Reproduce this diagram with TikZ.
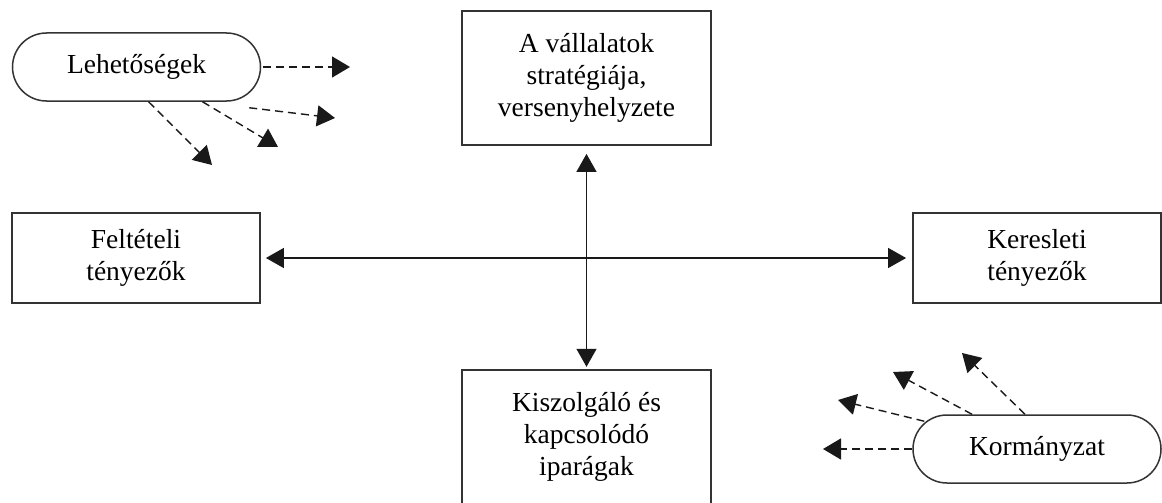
\documentclass[tikz,border=0pt]{standalone}
\usepackage{fontspec}
\setmainfont{Liberation Serif}
\usetikzlibrary{arrows.meta}
\begin{document}
\begin{tikzpicture}[x=1pt,y=-1pt,
  txt/.style={font=\fontsize{27.5}{32}\selectfont, align=center, inner sep=0pt},
  box/.style={txt, draw=black!80, line width=1.8pt},
  pill/.style={txt, draw=black!80, line width=1.5pt, rounded corners=34pt, minimum width=248pt, minimum height=68pt},
  solidarrow/.style={line width=1.3pt, black!90, {Triangle[length=18pt,width=20pt]}-{Triangle[length=18pt,width=20pt]}},
  dasharrow/.style={line width=1.4pt, black!90, dash pattern=on 8pt off 5pt, -{Triangle[length=18pt,width=21pt]}}
]
\useasboundingbox (0,0) rectangle (1162,503);
\fill[white] (0,0) rectangle (1162,503);

\node[box, minimum width=249pt, minimum height=134pt] (top) at (586.5,78) {A vállalatok\\stratégiája,\\versenyhelyzete};
\node[box, minimum width=248pt, minimum height=90pt] (left) at (136,258) {Feltételi\\tényezők};
\node[box, minimum width=248pt, minimum height=90pt] (right) at (1037,258) {Keresleti\\tényezők};
\node[txt, minimum width=249pt, minimum height=134pt] (bot) at (586.5,437) {Kiszolgáló és\\kapcsolódó\\iparágak};
\draw[black!80, line width=1.8pt] ([yshift=-10pt]bot.south west) -- (bot.north west) -- (bot.north east) -- ([yshift=-10pt]bot.south east);

\node[pill] (leh) at (136.5,67) {Lehetőségek};
\node[pill] (kor) at (1037,449) {Kormányzat};

\draw[solidarrow, shorten <=8pt, shorten >=3pt] (top.south) -- (bot.north);
\draw[solidarrow, shorten <=5pt, shorten >=6pt] (left.east) -- (right.west);

\coordinate (l1) at (350,67);
\coordinate (l2) at (335,118);
\coordinate (l3) at (278,147);
\coordinate (l4) at (212,165);
\draw[dasharrow] ([xshift=2pt]leh.east) -- (l1);
\draw[dasharrow] ([xshift=-12pt,yshift=-6pt]leh.south east) -- (l2);
\draw[dasharrow] ([xshift=66pt]leh.south) -- (l3);
\draw[dasharrow] ([xshift=12pt]leh.south) -- (l4);

\coordinate (k1) at (823,449);
\coordinate (k2) at (838,400);
\coordinate (k3) at (893,372);
\coordinate (k4) at (962,353);
\draw[dasharrow] (kor.west) -- (k1);
\draw[dasharrow] ([xshift=12pt,yshift=-7pt]kor.north west) -- (k2);
\draw[dasharrow] ([xshift=-65pt]kor.north) -- (k3);
\draw[dasharrow] ([xshift=-12pt]kor.north) -- (k4);
\end{tikzpicture}
\end{document}
